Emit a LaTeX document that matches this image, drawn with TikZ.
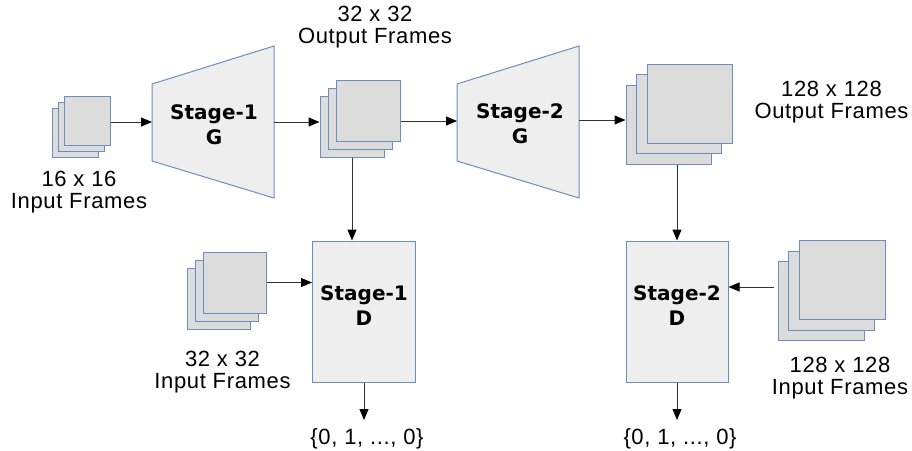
\documentclass[tikz,border=0pt]{standalone}
\usepackage{fontspec}
\setmainfont{Liberation Sans}
\newfontfamily\labelfont{Liberation Sans}[LetterSpace=3]
\newfontfamily\stagefont{DejaVu Sans}
\usetikzlibrary{arrows.meta}

\definecolor{frameblue}{HTML}{6C8EBF}
\definecolor{framegray}{HTML}{DCDCDC}
\definecolor{boxgray}{HTML}{EEEEEE}
\definecolor{linegray}{HTML}{333333}

% a stack of three frames; #1 name, (#2,#3) centre of the back frame,
% #4 x #5 frame size, #6 step between frames
\newcommand{\framestack}[6]{%
  \node[framesq={#4}{#5}] (#1-a) at (#2,#3) {};
  \node[framesq={#4}{#5}] (#1-b) at ({#2+#6},{#3-#6}) {};
  \node[framesq={#4}{#5}] (#1-c) at ({#2+2*#6},{#3-2*#6}) {};
}

\begin{document}
\begin{tikzpicture}[x=1pt,y=-1pt,
  framesq/.style 2 args={draw=frameblue, fill=framegray, line width=1pt,
    inner sep=0pt, minimum width=#1 pt, minimum height=#2 pt},
  trapbox/.style={draw=frameblue, fill=boxgray, line width=1pt, line join=miter},
  dbox/.style={draw=frameblue, fill=boxgray, line width=1pt, inner sep=0pt},
  stagetxt/.style={font=\stagefont\bfseries\fontsize{20}{25}\selectfont,
    align=center, inner sep=0pt, anchor=north},
  lbl/.style={font=\labelfont\fontsize{22}{22}\selectfont,
    align=center, inner sep=0pt, anchor=north},
  outlbl/.style={font=\labelfont\fontsize{22}{24}\selectfont,
    inner sep=0pt, anchor=base},
  arr/.style={draw=linegray, line width=1pt,
    -{Triangle[length=11pt,width=9pt,color=black]}},
]
\useasboundingbox (0,0) rectangle (912,450);

% generators
\draw[trapbox] (152,84) -- (274,46) -- (274,198) -- (152,161) -- cycle;
\coordinate (g1in) at (152,122);
\coordinate (g1out) at (274,122);
\node[stagetxt] (g1) at (214,104) {Stage-1\\G};

\draw[trapbox] (457,84) -- (579,46) -- (579,198) -- (457,161) -- cycle;
\coordinate (g2in) at (457,121);
\coordinate (g2out) at (579,120);
\node[stagetxt] (g2) at (520,103) {Stage-2\\G};

% discriminators
\node[dbox, minimum width=103pt, minimum height=141pt] (d1) at (364,311.5) {};
\node[stagetxt] (d1t) at (364,285) {Stage-1\\D};
\node[dbox, minimum width=102pt, minimum height=141pt] (d2) at (677,311.5) {};
\node[stagetxt] (d2t) at (677,285) {Stage-2\\D};

% frame stacks
\framestack{s1}{75}{132.5}{46}{49}{6}
\framestack{s2}{352}{126.5}{64}{61}{8}
\framestack{s3}{668.5}{124.5}{85}{79}{10.5}
\framestack{s4}{218.5}{298.5}{63}{61}{8}
\framestack{s5}{821}{301}{86}{79}{10.5}

% labels
\node[lbl] (l16) at (79,171) {16 x 16\\Input Frames};
\node[lbl] (l32o) at (375,6) {32 x 32\\Output Frames};
\node[lbl] (l128o) at (831.5,81) {128 x 128\\Output Frames};
\node[lbl] (l32i) at (222.5,351) {32 x 32\\Input Frames};
\node[lbl] (l128i) at (840,357) {128 x 128\\Input Frames};

\coordinate (o1tip) at (364,420);
\coordinate (o2tip) at (677,420);
\node[outlbl] (o1) at (367,444) {\{0, 1, ..., 0\}};
\node[outlbl] (o2) at (680,444) {\{0, 1, ..., 0\}};

% connectors
\draw[arr] (s1-c.east |- g1in) -- (g1in);
\draw[arr] (g1out) -- (g1out -| s2-a.west);
\draw[arr] (s2-c.east |- g2in) -- (g2in);
\draw[arr] (g2out) -- (g2out -| s3-a.west);
\draw[arr] (s2-a.south) -- (s2-a.south |- d1.north);
\draw[arr] (d2.north |- s3-a.south) -- (d2.north);
\draw[arr] (s4-c.east) -- (s4-c.east -| d1.west);
\coordinate (s5out) at (774,287);
\draw[arr] (s5out) -- (s5out -| d2.east);
\draw[arr] (d1.south) -- (o1tip);
\draw[arr] (d2.south) -- (o2tip);
\end{tikzpicture}
\end{document}
